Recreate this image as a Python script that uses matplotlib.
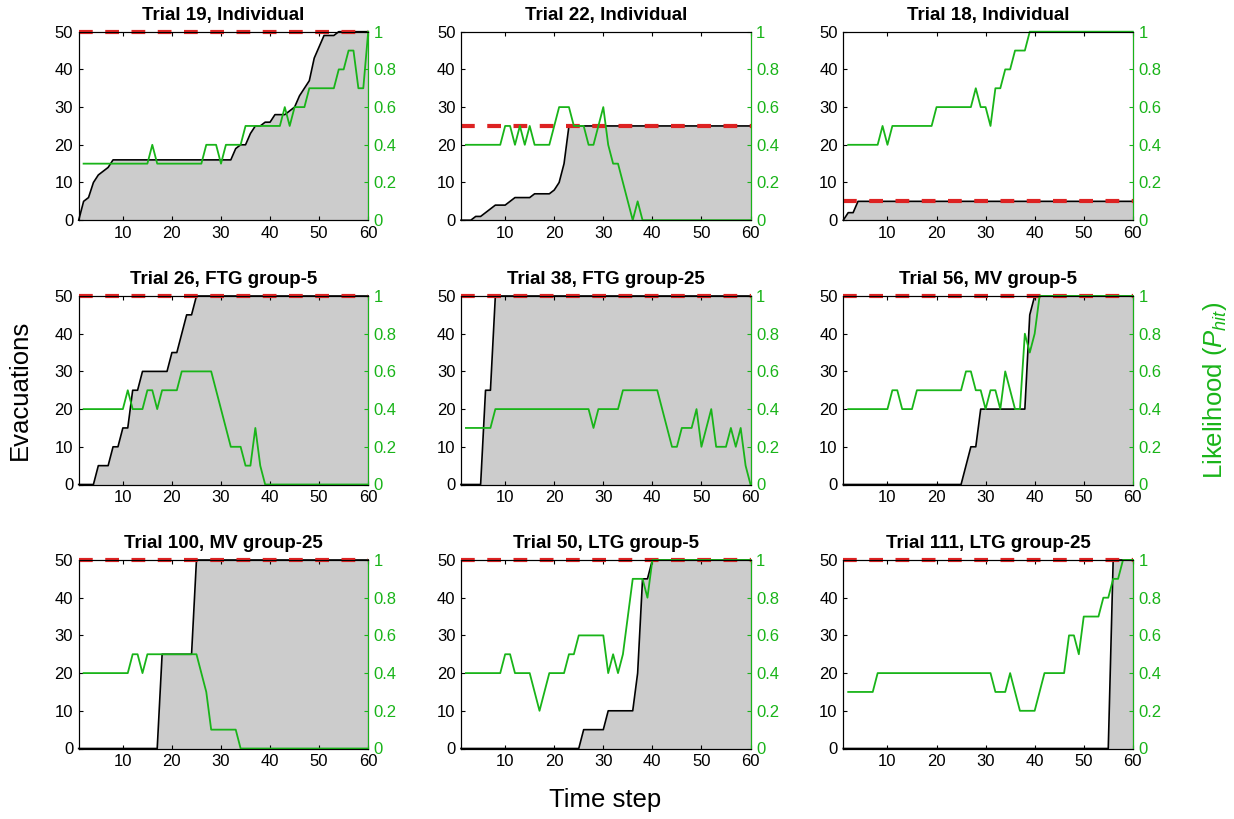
import numpy as np
import matplotlib
matplotlib.use('Agg')
import matplotlib.pyplot as plt

plt.rcParams['font.family'] = ['Liberation Sans', 'DejaVu Sans']
plt.rcParams['mathtext.fontset'] = 'custom'
plt.rcParams['mathtext.rm'] = 'Liberation Sans'
plt.rcParams['mathtext.it'] = 'Liberation Sans:italic'

# time steps: evacuations from step 1, likelihood from step 2
steps = np.arange(1, 61)
lik_steps = np.arange(2, 61)

titles = ['Trial 19, Individual', 'Trial 22, Individual', 'Trial 18, Individual',
          'Trial 26, FTG group-5', 'Trial 38, FTG group-25', 'Trial 56, MV group-5',
          'Trial 100, MV group-25', 'Trial 50, LTG group-5', 'Trial 111, LTG group-25']
targets = [50, 25, 5, 50, 50, 50, 50, 50, 50]

evac_t19 = [0, 5, 6, 10, 12, 13, 14, 16] + [16] * 24 + \
    [19, 20, 20, 23, 25, 25, 26, 26, 28, 28, 28, 29, 30, 33, 35, 37, 43, 46, 49, 49, 49] + [50] * 7
lik_t19 = [0.3] * 14 + [0.4] + [0.3] * 10 + [0.4] * 3 + [0.3] + [0.4] * 4 + [0.5] * 8 + \
    [0.6, 0.5, 0.6, 0.6, 0.6] + [0.7] * 6 + [0.8, 0.8, 0.9, 0.9, 0.7, 0.7, 1.0]

evac_t22 = [0, 0, 0, 1, 1, 2, 3, 4, 4, 4, 5, 6, 6, 6, 6, 7, 7, 7, 7, 8, 10, 15] + [25] * 38
lik_t22 = [0.4] * 8 + [0.5, 0.5, 0.4, 0.5, 0.4, 0.5] + [0.4] * 4 + [0.5, 0.6, 0.6, 0.6,
    0.5, 0.5, 0.5, 0.4, 0.4, 0.5, 0.6, 0.4, 0.3, 0.3, 0.2, 0.1, 0.0, 0.1] + [0.0] * 23

evac_t18 = [0, 2, 2] + [5] * 57
lik_t18 = [0.4] * 7 + [0.5, 0.4] + [0.5] * 9 + [0.6] * 8 + [0.7, 0.6, 0.6, 0.5, 0.7, 0.7,
    0.8, 0.8, 0.9, 0.9, 0.9] + [1.0] * 22

evac_t26 = [0] * 4 + [5] * 3 + [10, 10, 15, 15, 25, 25] + [30] * 6 + [35, 35, 40, 45, 45] + [50] * 36
lik_t26 = [0.4] * 9 + [0.5, 0.4, 0.4, 0.4, 0.5, 0.5, 0.4] + [0.5] * 4 + [0.6] * 7 + \
    [0.5, 0.4, 0.3, 0.2, 0.2, 0.2, 0.1, 0.1, 0.3, 0.1] + [0.0] * 22

evac_t38 = [0] * 5 + [25, 25] + [50] * 53
lik_t38 = [0.3] * 6 + [0.4] * 20 + [0.3] + [0.4] * 5 + [0.5] * 8 + \
    [0.4, 0.3, 0.2, 0.2, 0.3, 0.3, 0.3, 0.4, 0.2, 0.3, 0.4, 0.2, 0.2, 0.2, 0.3, 0.2, 0.3, 0.1, 0.0]

evac_t56 = [0] * 25 + [5, 10, 10] + [20] * 10 + [45] + [50] * 21
lik_t56 = [0.4] * 9 + [0.5, 0.5, 0.4, 0.4, 0.4] + [0.5] * 10 + [0.6, 0.6, 0.5, 0.5, 0.4,
    0.5, 0.5, 0.4, 0.6, 0.5, 0.4, 0.4, 0.8, 0.7, 0.8] + [1.0] * 20

evac_t100 = [0] * 17 + [25] * 7 + [50] * 36
lik_t100 = [0.4] * 10 + [0.5, 0.5, 0.4] + [0.5] * 11 + [0.4, 0.3] + [0.1] * 6 + [0.0] * 27

evac_t50 = [0] * 25 + [5] * 5 + [10] * 6 + [20, 45, 45] + [50] * 21
lik_t50 = [0.4] * 8 + [0.5, 0.5, 0.4, 0.4, 0.4, 0.4, 0.3, 0.2, 0.3, 0.4, 0.4, 0.4, 0.4,
    0.5, 0.5] + [0.6] * 6 + [0.4, 0.5, 0.4, 0.5, 0.7, 0.9, 0.9, 0.9, 0.8] + [1.0] * 21

evac_t111 = [0] * 55 + [50] * 5
lik_t111 = [0.3] * 6 + [0.4] * 24 + [0.3] * 3 + [0.4, 0.3, 0.2, 0.2, 0.2, 0.2, 0.3] + \
    [0.4] * 5 + [0.6, 0.6, 0.5, 0.7, 0.7, 0.7, 0.7, 0.8, 0.8, 0.9, 0.9, 1.0, 1.0, 1.0]

evacs = [evac_t19, evac_t22, evac_t18, evac_t26, evac_t38, evac_t56, evac_t100, evac_t50, evac_t111]
liks = [lik_t19, lik_t22, lik_t18, lik_t26, lik_t38, lik_t56, lik_t100, lik_t50, lik_t111]

green = '#19b419'
red = '#dd2222'

W, H = 1234, 819
fig = plt.figure(figsize=(W / 100, H / 100), dpi=100)

lefts = [78.7, 461, 843.3]
tops = [31.7, 296, 560]
aw, ah = 289.5, 188.5

for i in range(9):
    r, c = divmod(i, 3)
    ax = fig.add_axes([lefts[c] / W, 1 - (tops[r] + ah) / H, aw / W, ah / H])
    y = np.array(evacs[i])
    ax.fill_between(steps, y, 0, color='#cccccc', lw=0)
    ax.plot(steps, y, color='black', lw=1.2, clip_on=False)
    ax.axhline(targets[i], color=red, lw=3, dashes=(3.3, 3.0), clip_on=False, zorder=4)
    ax.set_xlim(1, 60)
    ax.set_ylim(0, 50)
    ax.set_xticks([10, 20, 30, 40, 50, 60])
    ax.set_yticks([0, 10, 20, 30, 40, 50])
    ax.tick_params(direction='in', length=3, labelsize=12, top=True, right=False, pad=4)
    for s in ax.spines.values():
        s.set_linewidth(0.8)
    ax.set_title(titles[i], fontsize=13.5, fontweight='bold', pad=8.5)

    ax2 = ax.twinx()
    ax2.plot(lik_steps, liks[i], color=green, lw=1.3, clip_on=False)
    ax2.set_ylim(0, 1)
    ax2.set_yticks([0, 0.2, 0.4, 0.6, 0.8, 1])
    ax2.set_yticklabels(['0', '0.2', '0.4', '0.6', '0.8', '1'])
    ax2.tick_params(direction='in', length=3, labelsize=12, colors=green, pad=4)
    ax2.spines['right'].set_color(green)
    ax2.spines['right'].set_linewidth(0.8)

fig.text(20 / W, 1 - 390 / H, 'Evacuations', rotation=90, ha='center', va='center', fontsize=18.5)
fig.text(1215 / W, 1 - 390 / H, r'Likelihood ($P_{hit}$)', rotation=90, ha='center', va='center',
         fontsize=18.5, color=green)
fig.text(605 / W, 1 - 800 / H, 'Time step', ha='center', va='center', fontsize=18.5)

fig.savefig('out.png', dpi=100)
